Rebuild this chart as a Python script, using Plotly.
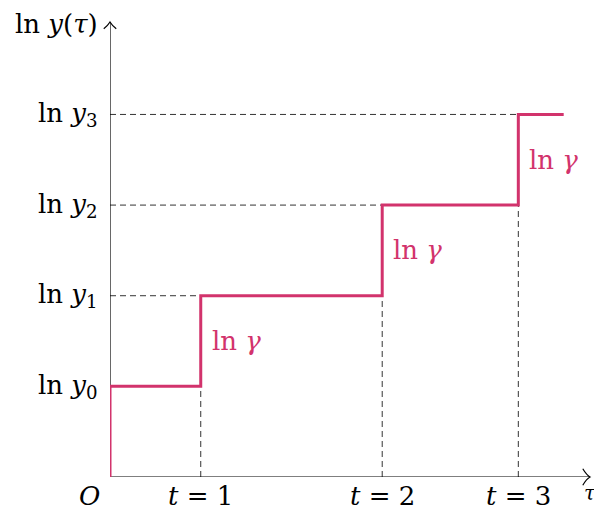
import plotly.graph_objects as go

# Step levels of ln y at the jump times
tau_marks = [0, 1, 3, 4.5, 5]          # O, t=1, t=2, t=3, end of curve
levels = [1, 2, 3, 4]                 # ln y0 .. ln y3
level_labels = ["ln <i>y</i><sub>0</sub>", "ln <i>y</i><sub>1</sub>",
                "ln <i>y</i><sub>2</sub>", "ln <i>y</i><sub>3</sub>"]
time_labels = ["<i>t</i> = 1", "<i>t</i> = 2", "<i>t</i> = 3"]
jump_label = "ln <i>γ</i>"

XMAX, YMAX = 5.29, 5.02
PINK = "#D2336C"
FONT = "DejaVu Serif, Liberation Serif, serif"
FS = 26

# build the staircase path from the arrays
xs, ys = [0], [0]
for i, lv in enumerate(levels):
    xs += [tau_marks[i], tau_marks[i + 1]]
    ys += [lv, lv]

fig = go.Figure()

# dashed guides
for i, lv in enumerate(levels[1:], start=1):
    fig.add_trace(go.Scatter(x=[0, tau_marks[i]], y=[lv, lv], mode="lines",
                             line=dict(color="#333", width=1, dash="6px,4px"),
                             hoverinfo="skip"))
    fig.add_trace(go.Scatter(x=[tau_marks[i], tau_marks[i]], y=[0, levels[i - 1]],
                             mode="lines",
                             line=dict(color="#333", width=1, dash="6px,4px"),
                             hoverinfo="skip"))

# axes with open arrow tips
fig.add_trace(go.Scatter(x=[0, XMAX], y=[0, 0], mode="lines",
                         line=dict(color="black", width=1.2), hoverinfo="skip"))
fig.add_trace(go.Scatter(x=[0, 0], y=[0, YMAX], mode="lines",
                         line=dict(color="black", width=1.2), hoverinfo="skip"))

fig.add_trace(go.Scatter(x=xs, y=ys, mode="lines",
                         line=dict(color=PINK, width=3, shape="linear"),
                         hoverinfo="skip"))

shapes = [
    dict(type="path", xref="paper", yref="paper",
         path="M 0.985 0.018 Q 0.993 0.004 1 0 Q 0.993 -0.004 0.985 -0.018",
         line=dict(color="black", width=1.2)),
    dict(type="path", xref="paper", yref="paper",
         path="M -0.013 0.985 Q -0.004 0.993 0 1 Q 0.004 0.993 0.013 0.985",
         line=dict(color="black", width=1.2)),
]

ann = []
for lv, lab in zip(levels, level_labels):
    ann.append(dict(x=0, y=lv, text=lab, xanchor="right", yanchor="middle",
                    xshift=-10, showarrow=False))
for t, lab in zip(tau_marks[1:4], time_labels):
    ann.append(dict(x=t, y=0, text=lab, xanchor="center", yanchor="top",
                    yshift=-2, showarrow=False))
for i in range(1, 4):
    ann.append(dict(x=tau_marks[i], y=(levels[i - 1] + levels[i]) / 2,
                    text=jump_label, xanchor="left", yanchor="middle",
                    xshift=9, showarrow=False, font=dict(color=PINK)))
ann.append(dict(x=0, y=0, text="<i>O</i>", xanchor="right", yanchor="top",
                xshift=-8, yshift=-2, showarrow=False))
ann.append(dict(x=XMAX, y=0, text="<i>τ</i>", xanchor="center", yanchor="top",
                yshift=-2, showarrow=False, font=dict(size=20)))
ann.append(dict(x=0, y=YMAX, text="ln <i>y</i>(<i>τ</i>)", xanchor="right",
                yanchor="middle", xshift=-10, yshift=-2, showarrow=False))

fig.update_layout(
    width=594, height=513,
    margin=dict(l=110, r=4, t=22, b=36),
    paper_bgcolor="white", plot_bgcolor="white",
    showlegend=False,
    font=dict(family=FONT, size=FS, color="black"),
    xaxis=dict(range=[0, XMAX], visible=False, fixedrange=True),
    yaxis=dict(range=[0, YMAX], visible=False, fixedrange=True),
    shapes=shapes, annotations=ann,
)

fig.write_html("out.html")
